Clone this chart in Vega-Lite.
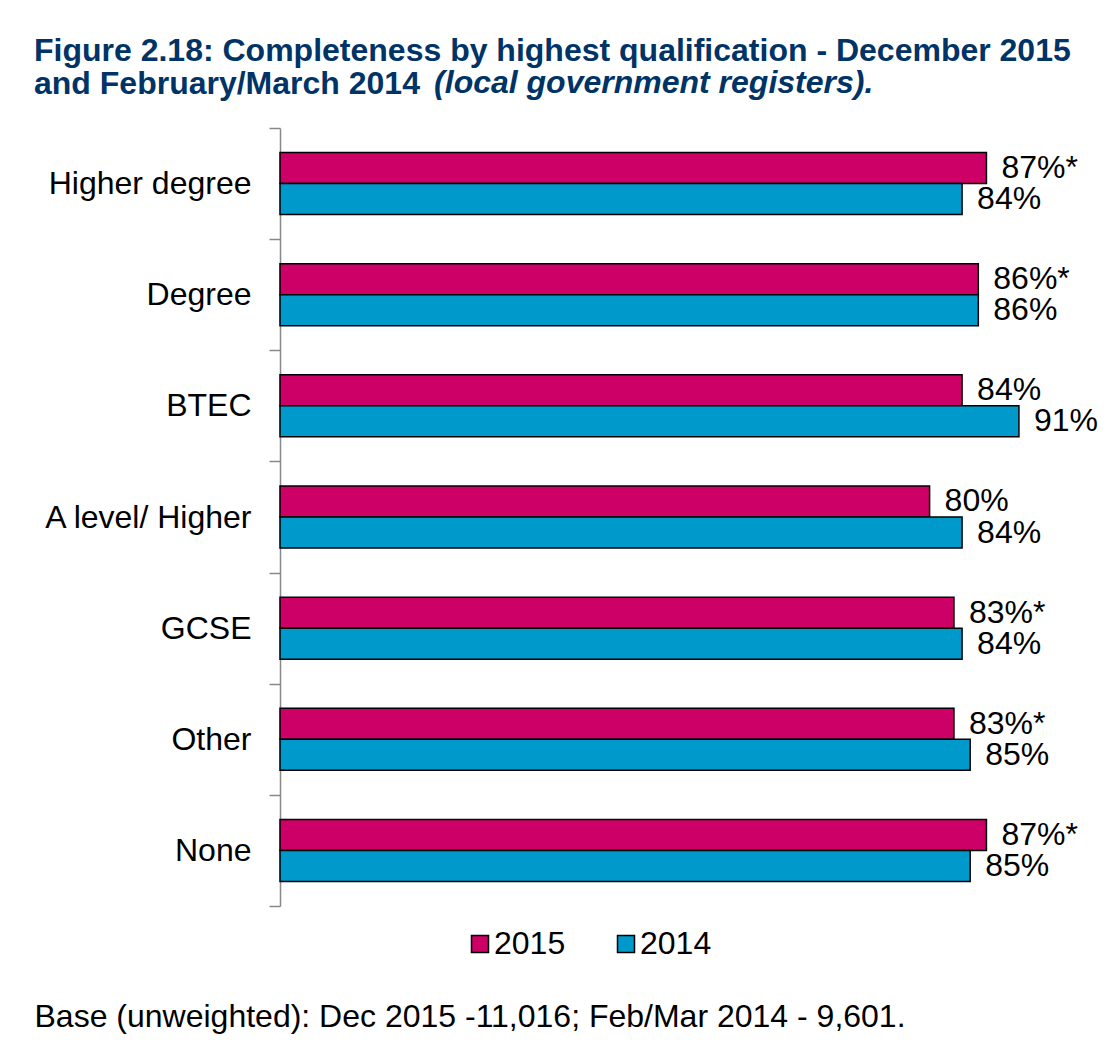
{
  "$schema": "https://vega.github.io/schema/vega-lite/v6.json",
  "width": 812,
  "height": 778,
  "autosize": {"type": "none"},
  "padding": {"left": 280, "top": 128, "right": 16, "bottom": 135},
  "background": "white",
  "config": {"view": {"stroke": null}, "font": "Liberation Sans"},
  "title": {
    "text": ["Figure 2.18: Completeness by highest qualification - December 2015", "and February/March 2014"],
    "subtitle": "\u200b\u00a0\u00a0\u00a0\u00a0\u00a0\u00a0\u00a0\u00a0\u00a0\u00a0\u00a0\u00a0\u00a0\u00a0\u00a0\u00a0\u00a0\u00a0\u00a0\u00a0\u00a0\u00a0\u00a0\u00a0\u00a0\u00a0\u00a0\u00a0\u00a0\u00a0\u00a0\u00a0\u00a0\u00a0\u00a0\u00a0\u00a0\u00a0\u00a0\u00a0\u00a0\u00a0\u00a0\u00a0\u00a0(local government registers).",
    "anchor": "start",
    "frame": "group",
    "dx": -246,
    "font": "Liberation Sans",
    "fontSize": 32,
    "fontWeight": "bold",
    "color": "#003366",
    "lineHeight": 33,
    "subtitleFont": "Liberation Sans",
    "subtitleFontSize": 32,
    "subtitleFontWeight": "bold",
    "subtitleFontStyle": "italic",
    "subtitleColor": "#003366",
    "subtitleLineHeight": 33,
    "subtitlePadding": -33,
    "offset": 11
  },
  "data": {
    "values": [
      {"qual": "Higher degree", "year": "2015", "value": 87, "label": "87%*"},
      {"qual": "Higher degree", "year": "2014", "value": 84, "label": "84%"},
      {"qual": "Degree", "year": "2015", "value": 86, "label": "86%*"},
      {"qual": "Degree", "year": "2014", "value": 86, "label": "86%"},
      {"qual": "BTEC", "year": "2015", "value": 84, "label": "84%"},
      {"qual": "BTEC", "year": "2014", "value": 91, "label": "91%"},
      {"qual": "A level/ Higher", "year": "2015", "value": 80, "label": "80%"},
      {"qual": "A level/ Higher", "year": "2014", "value": 84, "label": "84%"},
      {"qual": "GCSE", "year": "2015", "value": 83, "label": "83%*"},
      {"qual": "GCSE", "year": "2014", "value": 84, "label": "84%"},
      {"qual": "Other", "year": "2015", "value": 83, "label": "83%*"},
      {"qual": "Other", "year": "2014", "value": 85, "label": "85%"},
      {"qual": "None", "year": "2015", "value": 87, "label": "87%*"},
      {"qual": "None", "year": "2014", "value": 85, "label": "85%"}
    ]
  },
  "encoding": {
    "y": {
      "field": "qual",
      "type": "nominal",
      "sort": ["Higher degree", "Degree", "BTEC", "A level/ Higher", "GCSE", "Other", "None"],
      "scale": {"paddingInner": 0, "paddingOuter": 0},
      "axis": {
        "title": null,
        "domainColor": "#888888",
        "domainWidth": 1.5,
        "tickColor": "#888888",
        "tickWidth": 1.5,
        "tickSize": 11,
        "tickBand": "extent",
        "labelFont": "Liberation Sans",
        "labelFontSize": 32,
        "labelColor": "black",
        "labelPadding": 18,
        "labelLimit": 400
      }
    },
    "yOffset": {
      "field": "year",
      "type": "nominal",
      "sort": ["2015", "2014"],
      "scale": {"paddingInner": 0, "paddingOuter": 0.792}
    },
    "x": {
      "field": "value",
      "type": "quantitative",
      "scale": {"domain": [0, 100], "nice": false, "zero": true},
      "axis": {
        "domain": false,
        "ticks": false,
        "labels": false,
        "grid": false,
        "title": "Base (unweighted): Dec 2015 -11,016; Feb/Mar 2014 - 9,601.",
        "titleFont": "Liberation Sans",
        "titleFontSize": 32,
        "titleFontWeight": "normal",
        "titleColor": "black",
        "titleAnchor": "start",
        "titleAlign": "left",
        "titleBaseline": "alphabetic",
        "titleX": -246,
        "titleY": 120
      }
    }
  },
  "layer": [
    {
      "mark": {"type": "bar", "stroke": "black", "strokeWidth": 1.5},
      "encoding": {
        "color": {
          "field": "year",
          "type": "nominal",
          "sort": ["2015", "2014"],
          "scale": {"domain": ["2015", "2014"], "range": ["#CC0066", "#0099CC"]},
          "legend": {
            "title": null,
            "orient": "none",
            "direction": "horizontal",
            "legendX": 184,
            "legendY": 800,
            "padding": 0,
            "symbolType": "square",
            "symbolSize": 289,
            "symbolStrokeColor": "black",
            "symbolStrokeWidth": 1.5,
            "symbolOpacity": 1,
            "labelFont": "Liberation Sans",
            "labelFontSize": 32,
            "labelColor": "black",
            "labelOffset": -2,
            "columnPadding": 44
          }
        }
      }
    },
    {
      "mark": {"type": "text", "align": "left", "baseline": "middle", "dx": 15, "font": "Liberation Sans", "fontSize": 32, "color": "black"},
      "encoding": {"text": {"field": "label"}}
    }
  ]
}
